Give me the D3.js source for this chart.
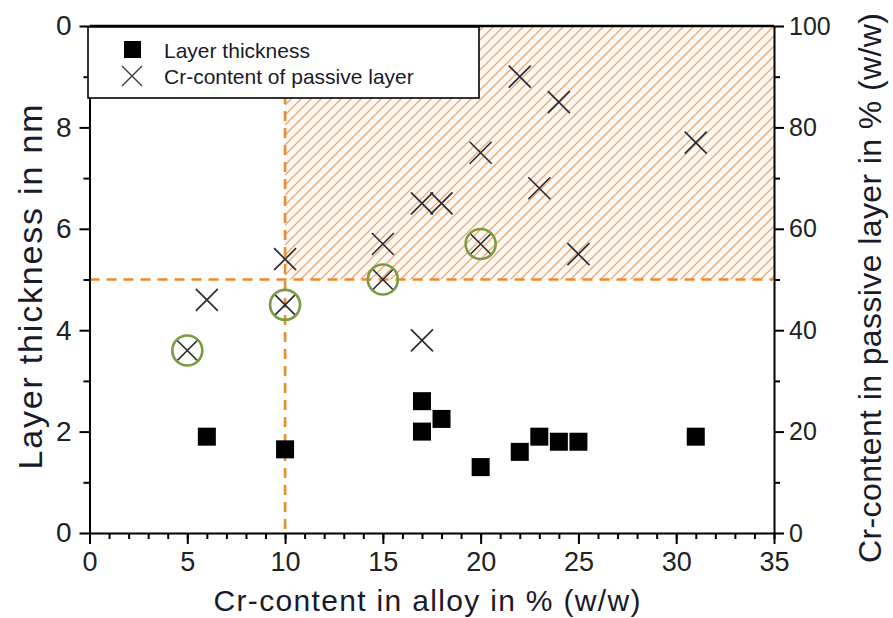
<!DOCTYPE html>
<html>
<head>
<meta charset="utf-8">
<script src="https://cdn.jsdelivr.net/npm/d3@7"></script>
<style>
  body { margin: 0; background: #fff; }
  svg { display: block; font-family: "Liberation Sans", Arial, sans-serif; }
  .axis path, .axis line { stroke: #000; stroke-width: 2; }
  .axis text { fill: #222; font-family: "Liberation Sans", Arial, sans-serif; }
</style>
</head>
<body>
<svg id="chart"></svg>
<script>
(function () {
    const width = 893;
    const height = 618;

    // Layer thickness (left axis, nm)
    const thickAlloy = [6, 10, 17, 17, 18, 20, 22, 23, 24, 25, 31];
    const thickValue = [1.9, 1.65, 2.6, 2.0, 2.25, 1.3, 1.6, 1.9, 1.8, 1.8, 1.9];

    // Cr-content of passive layer (right axis, %)
    const crAlloy = [5, 6, 10, 10, 15, 15, 17, 17, 18, 20, 20, 22, 23, 24, 25, 31];
    const crValue = [36, 46, 45, 54, 50, 57, 38, 65, 65, 57, 75, 90, 68, 85, 55, 77];

    // points marked with a green circle
    const circledAlloy = [5, 10, 15, 20];
    const circledValue = [36, 45, 50, 57];

    // thresholds of the hatched region
    const limitAlloy = 10;
    const limitThick = 5;

    const xTicks = [0, 5, 10, 15, 20, 25, 30, 35];
    const yLeftTicks = [0, 2, 4, 6, 8, 10];
    const yRightTicks = [0, 20, 40, 60, 80, 100];

    const plot = { left: 89.5, right: 774, top: 26, bottom: 533 };

    const svg = d3.select("#chart")
        .attr("width", width)
        .attr("height", height);

    const x = d3.scaleLinear().domain([0, 35]).range([plot.left, plot.right]);
    const y = d3.scaleLinear().domain([0, 10]).range([plot.bottom, plot.top]);
    const yR = d3.scaleLinear().domain([0, 100]).range([plot.bottom, plot.top]);

    // hatch pattern
    const pat = svg.append("defs").append("pattern")
        .attr("id", "hatch")
        .attr("patternUnits", "userSpaceOnUse")
        .attr("width", 10)
        .attr("height", 10);
    pat.append("rect").attr("width", 10).attr("height", 10).attr("fill", "#fffaf5");
    pat.append("path")
        .attr("d", "M-1,1 l2,-2 M0,10 l10,-10 M9,11 l2,-2")
        .attr("stroke", "#f2a468")
        .attr("stroke-width", 1.3);

    svg.append("rect")
        .attr("x", x(limitAlloy))
        .attr("y", y(10))
        .attr("width", x(35) - x(limitAlloy))
        .attr("height", y(limitThick) - y(10))
        .attr("fill", "url(#hatch)");

    // dashed threshold lines
    const dash = svg.append("g")
        .attr("stroke", "#ef8a2c")
        .attr("stroke-width", 2.6)
        .attr("stroke-dasharray", "10,7");
    dash.append("line")
        .attr("x1", x(limitAlloy)).attr("x2", x(limitAlloy))
        .attr("y1", y(10)).attr("y2", y(0));
    dash.append("line")
        .attr("x1", x(0)).attr("x2", x(35))
        .attr("y1", y(limitThick)).attr("y2", y(limitThick));

    // minor ticks
    svg.append("g")
        .attr("class", "axis")
        .attr("transform", `translate(0,${plot.bottom})`)
        .call(d3.axisBottom(x).ticks(35).tickSize(6).tickFormat(""))
        .select(".domain").remove();
    svg.append("g")
        .attr("class", "axis")
        .attr("transform", `translate(${plot.left},0)`)
        .call(d3.axisLeft(y).tickValues(d3.range(1, 10, 2)).tickSize(6).tickFormat(""))
        .select(".domain").remove();
    svg.append("g")
        .attr("class", "axis")
        .attr("transform", `translate(${plot.right},0)`)
        .call(d3.axisRight(yR).tickValues(d3.range(10, 100, 20)).tickSize(6).tickFormat(""))
        .select(".domain").remove();

    // major axes
    const xAxis = svg.append("g")
        .attr("class", "axis")
        .attr("transform", `translate(0,${plot.bottom})`)
        .call(d3.axisBottom(x).tickValues(xTicks).tickSize(11).tickSizeOuter(0).tickPadding(8));
    xAxis.selectAll("text").attr("font-size", 27);

    const yAxis = svg.append("g")
        .attr("class", "axis")
        .attr("transform", `translate(${plot.left},0)`)
        .call(d3.axisLeft(y).tickValues(yLeftTicks).tickSize(10).tickSizeOuter(0).tickPadding(8)
            .tickFormat(d => d === 10 ? "0" : d));
    yAxis.selectAll("text").attr("font-size", 28);

    const yRAxis = svg.append("g")
        .attr("class", "axis")
        .attr("transform", `translate(${plot.right},0)`)
        .call(d3.axisRight(yR).tickValues(yRightTicks).tickSize(10).tickSizeOuter(0).tickPadding(5));
    yRAxis.selectAll("text").attr("font-size", 25);

    // top border
    svg.append("line")
        .attr("x1", plot.left).attr("x2", plot.right)
        .attr("y1", plot.top).attr("y2", plot.top)
        .attr("stroke", "#000").attr("stroke-width", 2.5);

    // layer thickness squares
    const sq = 18;
    svg.append("g").selectAll("rect")
        .data(thickAlloy)
        .join("rect")
        .attr("x", d => x(d) - sq / 2)
        .attr("y", (d, i) => y(thickValue[i]) - sq / 2)
        .attr("width", sq)
        .attr("height", sq)
        .attr("fill", "#000");

    // crosses
    const cr = 11;
    svg.append("g").selectAll("path")
        .data(crAlloy)
        .join("path")
        .attr("d", (d, i) => {
            const cx = x(d), cy = yR(crValue[i]);
            return `M${cx - cr},${cy - cr}L${cx + cr},${cy + cr}M${cx - cr},${cy + cr}L${cx + cr},${cy - cr}`;
        })
        .attr("stroke", "#2b2b33")
        .attr("stroke-width", 1.7)
        .attr("fill", "none");

    // green circles
    svg.append("g").selectAll("circle")
        .data(circledAlloy)
        .join("circle")
        .attr("cx", d => x(d))
        .attr("cy", (d, i) => yR(circledValue[i]))
        .attr("r", 15)
        .attr("fill", "none")
        .attr("stroke", "#7b9a44")
        .attr("stroke-width", 2.6);

    // legend
    const legend = svg.append("g");
    legend.append("rect")
        .attr("x", 88).attr("y", 27)
        .attr("width", 391).attr("height", 71)
        .attr("fill", "#fff")
        .attr("stroke", "#000")
        .attr("stroke-width", 1.6);
    legend.append("rect")
        .attr("x", 124).attr("y", 41)
        .attr("width", 17).attr("height", 17)
        .attr("fill", "#000");
    legend.append("path")
        .attr("d", "M122,66L142,86M122,86L142,66")
        .attr("stroke", "#444")
        .attr("stroke-width", 1.5);
    legend.append("text")
        .attr("x", 164).attr("y", 58)
        .attr("font-size", 21)
        .attr("fill", "#1a1a2a")
        .text("Layer thickness");
    legend.append("text")
        .attr("x", 164).attr("y", 84)
        .attr("font-size", 21)
        .attr("fill", "#1a1a2a")
        .text("Cr-content of passive layer");

    // axis titles
    svg.append("text")
        .attr("x", 427).attr("y", 611)
        .attr("text-anchor", "middle")
        .attr("font-size", 30)
        .attr("fill", "#1a1a2a")
        .attr("textLength", 427)
        .attr("lengthAdjust", "spacing")
        .text("Cr-content in alloy in % (w/w)");

    svg.append("text")
        .attr("transform", "translate(42,287) rotate(-90)")
        .attr("text-anchor", "middle")
        .attr("font-size", 34)
        .attr("fill", "#1a1a2a")
        .attr("textLength", 365)
        .attr("lengthAdjust", "spacing")
        .text("Layer thickness in nm");

    svg.append("text")
        .attr("transform", "translate(881,288) rotate(-90)")
        .attr("text-anchor", "middle")
        .attr("font-size", 32)
        .attr("fill", "#1a1a2a")
        .attr("textLength", 550)
        .attr("lengthAdjust", "spacing")
        .text("Cr-content in passive layer in % (w/w)");
})();
</script>
</body>
</html>
